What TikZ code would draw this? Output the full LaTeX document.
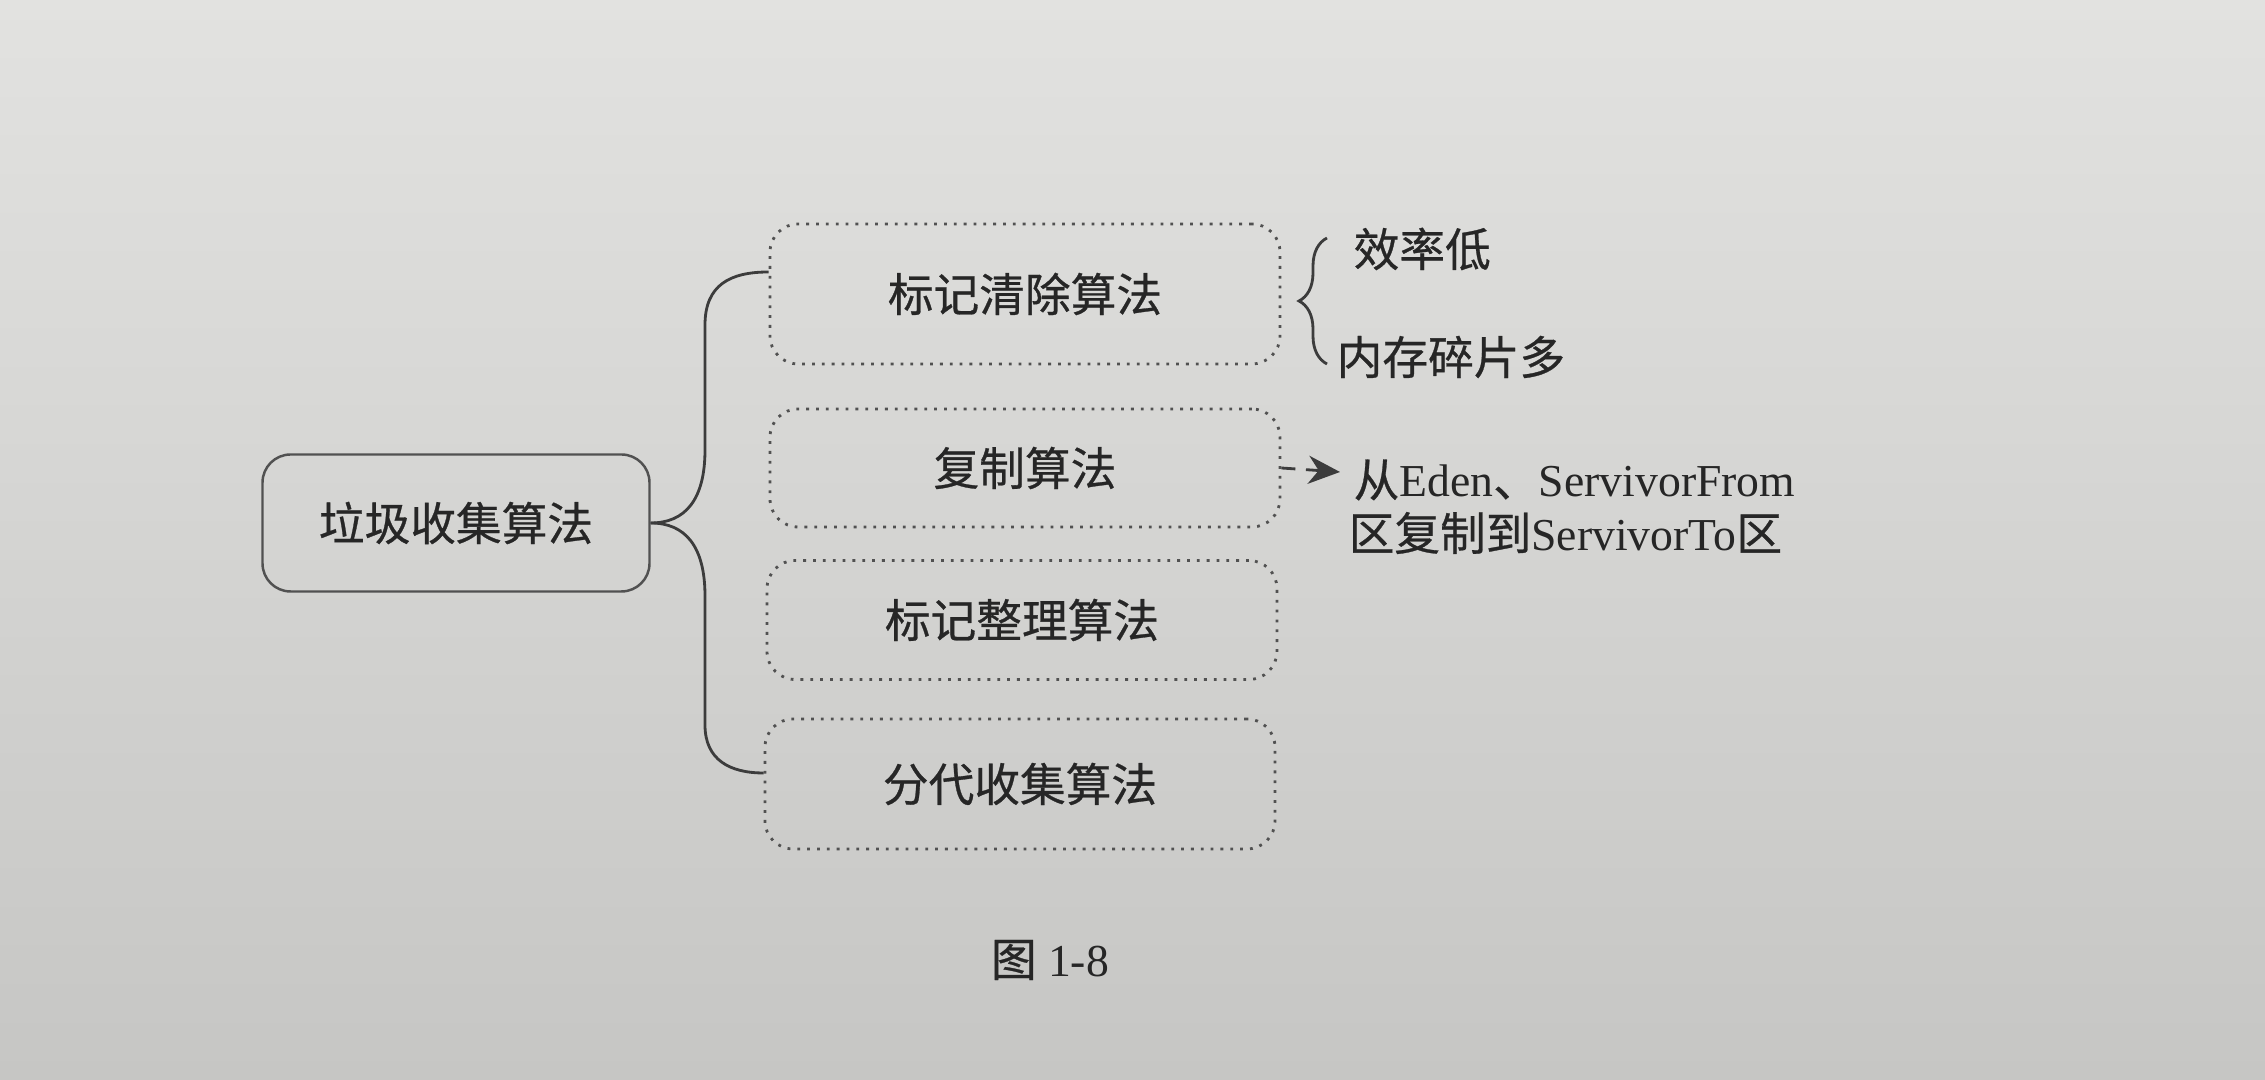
\documentclass[tikz,border=0pt]{standalone}
\usepackage{fontspec}
\setmainfont{Liberation Serif}
\newfontfamily\cjk{Noto Sans CJK SC}[FakeBold=0.6]
\usepackage{tikz}
\usetikzlibrary{calc,arrows.meta,positioning,decorations.pathreplacing}
\definecolor{paper}{RGB}{226,226,224}
\definecolor{paperdark}{RGB}{198,198,196}
\definecolor{ink}{RGB}{38,38,38}
\newcommand{\zh}[1]{{\cjk #1}}

\begin{document}
\begin{tikzpicture}[
    algbox/.style={draw=ink!80, dotted, line width=0.8pt, rounded corners=8pt,
      minimum width=5.1cm, text=ink, font=\cjk\fontsize{13}{15}\selectfont},
    rootbox/.style={draw=ink!80, line width=0.7pt, rounded corners=8pt, minimum width=3.87cm,
      minimum height=1.37cm, text=ink, font=\cjk\fontsize{13}{15}\selectfont},
    note/.style={anchor=west, inner sep=0pt, text=ink, font=\fontsize{13}{15}\selectfont},
    link/.style={draw=ink!90, line width=0.8pt}
  ]
  \shade[top color=paper, bottom color=paperdark] (0,0) rectangle (22.65,10.8);

  % left: root and the four algorithms
  \node[rootbox] (root) at (4.56,5.57) {垃圾收集算法};
  \node[algbox, minimum height=1.40cm] (b1) at (10.25,7.86) {标记清除算法};
  \node[algbox, minimum height=1.18cm] (b2) at (10.25,6.12) {复制算法};
  \node[algbox, minimum height=1.19cm] (b3) at (10.22,4.60) {标记整理算法};
  \node[algbox, minimum height=1.30cm] (b4) at (10.20,2.96) {分代收集算法};

  \draw[link] (root.east) .. controls (6.85,5.57) and (7.05,5.8) .. (7.05,6.3)
    -- (7.05,7.55) .. controls (7.05,7.95) and (7.3,8.08) .. ($(b1.west)+(0,0.22)$);
  \draw[link] (root.east) .. controls (6.85,5.57) and (7.05,5.34) .. (7.05,4.84)
    -- (7.05,3.55) .. controls (7.05,3.2) and (7.3,3.07) .. ($(b4.west)+(0,0.11)$);

  % right: notes
  \node[note] (m1) at (13.53,8.31) {\zh{效率低}};
  \node[note] (m2) at (13.36,7.23) {\zh{内存碎片多}};
  \coordinate (t1) at ($(m1.west)+(-0.26,0.11)$);
  \coordinate (t2) at ($(m2.west)+(-0.09,-0.07)$);
  \draw[link, decorate, decoration={brace, amplitude=0.28cm}] (t2) -- (t2 |- t1);

  \node[note] (c1) at (13.53,6.0) {\zh{从}Eden\zh{、}ServivorFrom};
  \node[note] (c2) at (13.48,5.47) {\zh{区复制到}ServivorTo\zh{区}};
  \draw[link, dash pattern=on 4pt off 3pt, -{Stealth[length=9pt,width=8pt]}]
    (b2.east) -- ($(c1.west)+(-0.13,0.08)$);

  \node[text=ink, font=\fontsize{13}{15}\selectfont] (cap) at (10.5,1.2) {\zh{图}~1-8};
\end{tikzpicture}
\end{document}
